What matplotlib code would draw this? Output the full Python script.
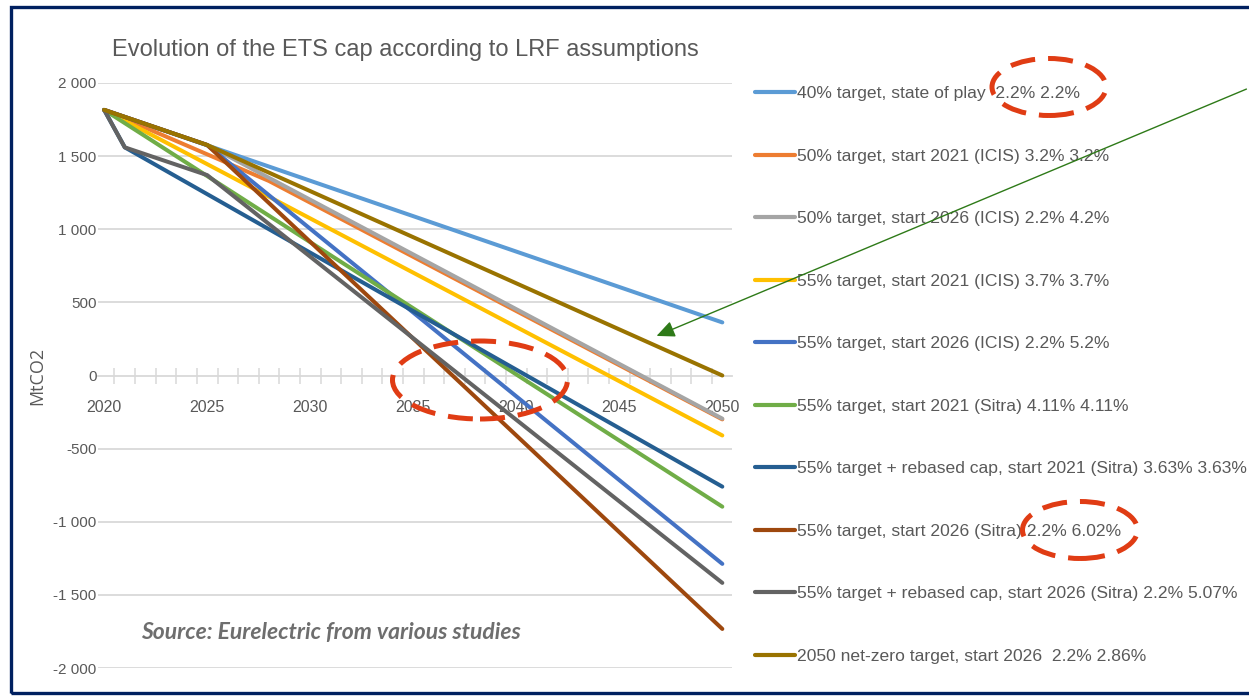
import matplotlib
matplotlib.use('Agg')
from matplotlib import pyplot as plt
from matplotlib import ticker as tkr
from matplotlib.patches import Ellipse, FancyArrowPatch, Rectangle

plt.rcParams['font.family'] = ['Liberation Sans', 'DejaVu Sans']

W, H = 1249, 696

title = 'Evolution of the ETS cap according to LRF assumptions'

labels = [
    '40% target, state of play  2.2% 2.2%',
    '50% target, start 2021 (ICIS) 3.2% 3.2%',
    '50% target, start 2026 (ICIS) 2.2% 4.2%',
    '55% target, start 2021 (ICIS) 3.7% 3.7%',
    '55% target, start 2026 (ICIS) 2.2% 5.2%',
    '55% target, start 2021 (Sitra) 4.11% 4.11%',
    '55% target + rebased cap, start 2021 (Sitra) 3.63% 3.63%',
    '55% target, start 2026 (Sitra) 2.2% 6.02%',
    '55% target + rebased cap, start 2026 (Sitra) 2.2% 5.07%',
    '2050 net-zero target, start 2026  2.2% 2.86%',
]
colors = ['#5B9BD5', '#ED7D31', '#A5A5A5', '#FFC000', '#4472C4',
          '#70AD47', '#255E91', '#9E480E', '#636363', '#997300']

# breakpoints of each cap trajectory (linear in between)
years = [
    [2020, 2050],
    [2020, 2028, 2050],
    [2020, 2025, 2050],
    [2020, 2050],
    [2020, 2025, 2050],
    [2020, 2050],
    [2020, 2021, 2050],
    [2020, 2025, 2050],
    [2020, 2021, 2025, 2050],
    [2020, 2025, 2050],
]
caps = [
    [1816, 363],
    [1816, 1330, -300],
    [1816, 1576, -295],
    [1816, -410],
    [1816, 1576, -1288],
    [1816, -897],
    [1816, 1560, -760],
    [1816, 1576, -1733],
    [1816, 1560, 1370, -1418],
    [1816, 1576, 0],
]

ytick_vals = [-2000, -1500, -1000, -500, 0, 500, 1000, 1500, 2000]
xtick_vals = [2020, 2025, 2030, 2035, 2040, 2045, 2050]

txt = '#595959'
grid = '#D9D9D9'

fig = plt.figure(figsize=(W / 100, H / 100), dpi=100)
ax = fig.add_axes([98 / W, 1 - 668 / H, 634 / W, 585 / H])

for yv in ytick_vals:
    if yv != 0:
        ax.axhline(yv, color=grid, lw=1.3, zorder=0)

for x, y, c, lab in zip(years, caps, colors, labels):
    ax.plot(x, y, color=c, lw=2.9, label=lab, solid_capstyle='round', zorder=3)

ax.set_xlim(2019.7, 2050.47)
ax.set_ylim(-2000, 2000)
for s in ['top', 'right', 'left']:
    ax.spines[s].set_visible(False)
ax.spines['bottom'].set_position(('data', 0))
ax.spines['bottom'].set_color(grid)
ax.spines['bottom'].set_linewidth(1.3)
ax.spines['bottom'].set_zorder(1)

ax.set_yticks(ytick_vals)
ax.yaxis.set_major_formatter(tkr.FuncFormatter(lambda v, p: '{:,.0f}'.format(v).replace(',', ' ')))
ax.tick_params(axis='y', length=0, pad=1, labelsize=11, labelcolor=txt)

ax.set_xticks(xtick_vals)
ax.set_xticks([2020.5 + i for i in range(30)], minor=True)
ax.tick_params(axis='x', which='major', length=0, pad=18, labelsize=11.5, labelcolor=txt)
ax.tick_params(axis='x', which='minor', direction='inout', length=11, width=1.1, color=grid)

ax.set_ylabel('MtCO2', family=['Open Sans', 'DejaVu Sans'], fontsize=13, color=txt)
ax.yaxis.set_label_coords(-(98 - 46) / 634, 0.5)

fig.text(405 / W, 1 - 50 / H, title, ha='center', va='center', fontsize=17, color=txt)

fig.text(141 / W, 1 - 633 / H, 'Source: Eurelectric from various studies',
         family=['Lato', 'DejaVu Sans'], style='italic', weight='bold',
         fontsize=16.5, color='#6E6E6E', ha='left', va='center')

leg = ax.legend(loc='upper left', bbox_to_anchor=(755 / W, 1 - 86 / H),
                bbox_transform=fig.transFigure, frameon=False, fontsize=12.6,
                handlelength=2.29, handletextpad=0.11, labelspacing=2.7,
                borderpad=0, borderaxespad=0)
for t in leg.get_texts():
    t.set_color(txt)
for h in leg.legend_handles:
    h.set_linewidth(3)

# red dashed highlight ellipses
for (cx, cy, ew, eh) in [(1049, 87, 114, 57), (480, 380, 175, 78), (1080, 530, 115, 57)]:
    fig.add_artist(Ellipse((cx / W, 1 - cy / H), ew / W, eh / H, transform=fig.transFigure,
                           fill=False, edgecolor='#E03C14', lw=3.6,
                           linestyle=(0, (5, 2.6)), zorder=10))

fig.add_artist(FancyArrowPatch((1.0, 1 - 88 / H), (654 / W, 1 - 337 / H),
                               transform=fig.transFigure, arrowstyle='-|>,head_length=11,head_width=5',
                               mutation_scale=1, color='#2E7A18', lw=1, zorder=10))

fig.add_artist(Rectangle((11 / W, 1 - 693 / H), 1.1, 686 / H, transform=fig.transFigure,
                         fill=False, edgecolor='#002060', lw=2.4, zorder=11))

fig.savefig('out.png', dpi=100)
